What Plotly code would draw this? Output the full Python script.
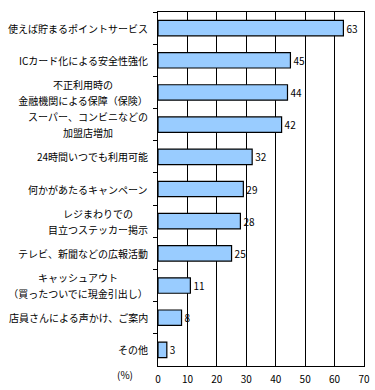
import plotly.graph_objects as go

categories = [
    "使えば貯まるポイントサービス",
    "ICカード化による安全性強化",
    "不正利用時の<br>金融機関による保障（保険）",
    "スーパー、コンビニなどの<br>加盟店増加",
    "24時間いつでも利用可能",
    "何かがあたるキャンペーン",
    "レジまわりでの<br>目立つステッカー掲示",
    "テレビ、新聞などの広報活動",
    "キャッシュアウト<br>（買ったついでに現金引出し）",
    "店員さんによる声かけ、ご案内",
    "その他",
]
values = [63, 45, 44, 42, 32, 29, 28, 25, 11, 8, 3]
x_ticks = [0, 10, 20, 30, 40, 50, 60, 70]

FONT = "Noto Sans CJK JP"

L, R, T, B = 158, 11, 12, 24
W, H = 375, 390
pw = W - L - R
ph = H - T - B
LINE_GAP = 16
FS = 10

fig = go.Figure(
    go.Bar(
        x=values,
        y=categories,
        orientation="h",
        width=0.48,
        marker=dict(color="#99CCFF", line=dict(color="black", width=1.2)),
        text=[str(v) for v in values],
        textposition="outside",
        textfont=dict(family=FONT, size=FS, color="black"),
        cliponaxis=False,
        hoverinfo="skip",
    )
)

# category labels, one annotation per text line; lines of a block are centred
# on each other and the block is right-aligned to the axis
label_annotations = []
for cat in categories:
    lines = cat.split("<br>")
    n = len(lines)
    block_w = max(len(s) for s in lines) * FS  # full-width glyphs
    for i, line in enumerate(lines):
        offset = (i - (n - 1) / 2) * LINE_GAP
        ann = dict(
            text=line,
            x=0, xref="paper", xanchor="right", xshift=-8,
            y=cat, yref="y", yanchor="middle", yshift=-offset,
            showarrow=False,
            font=dict(family=FONT, size=FS, color="black"),
        )
        if n > 1:
            ann.update(width=block_w, align="center")
        label_annotations.append(ann)

fig.update_layout(
    width=W,
    height=H,
    margin=dict(l=L, r=R, t=T, b=B, autoexpand=False),
    paper_bgcolor="white",
    plot_bgcolor="white",
    showlegend=False,
    font=dict(family=FONT, size=FS, color="black"),
    xaxis=dict(
        range=[0, 70],
        tickvals=x_ticks,
        showgrid=True,
        gridcolor="black",
        gridwidth=1,
        showline=True,
        linecolor="black",
        linewidth=1,
        mirror=True,
        ticks="",
        zeroline=False,
        automargin=False,
        ticklabelstandoff=4,
        tickfont=dict(family=FONT, size=FS, color="black"),
        fixedrange=True,
    ),
    yaxis=dict(
        autorange="reversed",
        showline=True,
        linecolor="black",
        linewidth=1,
        mirror=True,
        ticks="outside",
        tickson="boundaries",
        ticklen=4,
        tickcolor="black",
        showgrid=False,
        showticklabels=False,
        automargin=False,
        fixedrange=True,
    ),
    annotations=label_annotations + [
        dict(
            text="(%)",
            x=(125 - L) / pw,
            y=(H - B - 374) / ph,
            xref="paper", yref="paper",
            xanchor="center", yanchor="middle",
            showarrow=False,
            font=dict(family=FONT, size=FS, color="black"),
        )
    ],
)

fig.write_html(
    "out.html",
    config={"displayModeBar": False, "staticPlot": True},
    post_script="document.body.style.margin='0px';document.body.style.overflow='hidden';",
)
